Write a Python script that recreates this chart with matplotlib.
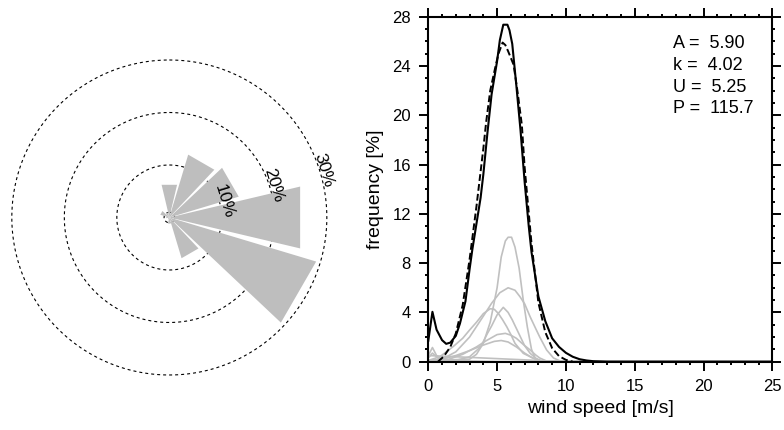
import numpy as np
import matplotlib.pyplot as plt
from matplotlib.patches import Polygon

plt.rcParams['font.family'] = ['Liberation Sans', 'DejaVu Sans']

# wind rose: 12 direction sectors (deg from north), frequency [%]
directions = [0, 30, 60, 90, 120, 150, 180, 210, 240, 270, 300, 330]
sector_freq = [6.4, 12.5, 13.8, 25.6, 29.2, 8.1, 1.2, 0.4, 0.3, 0.6, 1.8, 1.0]
rings = [1, 10, 20, 30]
ring_labels = ['', '10%', '20%', '30%']

# observed total distribution
total_x = [0, 0.3, 0.6, 1.0, 1.3, 1.6, 2.0, 2.3, 2.7, 3.0, 3.2, 3.5, 3.8, 4.0, 4.3,
           4.6, 5.0, 5.2, 5.45, 5.75, 5.9, 6.1, 6.4, 6.7, 7.0, 7.3, 7.5, 8.0, 8.5,
           9.0, 9.5, 10.0, 10.5, 11.0, 11.5, 12.0, 13.0, 25.0]
total_y = [1.7, 4.05, 2.6, 1.75, 1.45, 1.55, 2.1, 3.1, 4.9, 7.5, 9.1, 11.2, 13.3, 15.2, 18.6,
           21.7, 24.4, 26.1, 27.35, 27.35, 26.9, 25.8, 22.4, 18.8, 14.6, 11.0, 8.9, 5.3, 3.3,
           1.9, 1.2, 0.72, 0.4, 0.2, 0.1, 0.04, 0.0, 0.0]

# weibull fit (dashed)
fit_x = [0.7, 1.0, 1.2, 1.6, 2.0, 2.5, 3.0, 3.5, 4.0, 4.2, 4.5, 4.85, 5.1, 5.4, 5.6,
         5.8, 6.2, 6.5, 6.8, 7.0, 7.5, 8.0, 8.5, 9.0, 9.5, 10.0, 10.5]
fit_y = [0.0, 0.3, 0.55, 1.2, 2.3, 4.6, 8.3, 12.6, 17.3, 19.4, 22.0, 23.8, 25.0, 25.9, 25.7,
         25.2, 24.1, 21.8, 19.2, 15.8, 9.6, 4.8, 2.4, 1.1, 0.45, 0.15, 0.0]

# per-direction distributions (grey)
dir_curves = [
    ([0, 3.0, 3.5, 4.0, 4.5, 5.0, 5.3, 5.6, 5.8, 6.05, 6.3, 6.6, 6.9, 7.2, 7.5, 7.8, 8.2, 25],
     [0.1, 0.2, 0.6, 1.5, 3.2, 6.0, 8.5, 9.8, 10.1, 10.1, 9.3, 7.6, 5.0, 2.8, 1.0, 0.2, 0.0, 0.0]),
    ([0, 1, 2, 3, 4, 4.6, 5.2, 5.8, 6.3, 6.66, 7.0, 7.4, 7.8, 8.1, 8.6, 9.1, 9.6, 25],
     [0.1, 0.2, 0.8, 2.0, 3.7, 4.74, 5.6, 6.0, 5.8, 5.28, 4.7, 3.65, 2.7, 2.0, 0.95, 0.3, 0.05, 0.0]),
    ([0, 2, 3, 3.8, 4.3, 4.6, 5.0, 5.45, 5.8, 6.1, 6.7, 7.0, 7.4, 7.8, 8.2, 25],
     [0.05, 0.1, 0.4, 1.2, 2.3, 2.9, 3.8, 4.41, 4.0, 3.4, 2.0, 1.3, 0.68, 0.3, 0.05, 0.0]),
    ([0, 0.85, 1.8, 2.5, 3.0, 3.5, 4.0, 4.5, 4.8, 5.1, 5.4, 5.7, 6.0, 6.3, 6.9, 7.6, 8.3, 25],
     [0.1, 0.41, 1.22, 1.9, 2.57, 3.2, 3.9, 4.3, 4.25, 3.9, 3.4, 2.84, 2.2, 1.49, 0.68, 0.3, 0.05, 0.0]),
    ([0, 1.5, 2.5, 3.5, 4.2, 5.0, 5.6, 6.0, 6.4, 6.9, 7.4, 7.8, 8.1, 8.6, 25],
     [0.05, 0.2, 0.6, 1.2, 1.7, 2.2, 2.3, 2.15, 1.9, 1.4, 0.95, 0.55, 0.3, 0.05, 0.0]),
    ([0, 1, 2, 3, 4, 4.8, 5.3, 5.8, 6.4, 7.0, 7.5, 8.0, 8.5, 25],
     [0.1, 0.2, 0.5, 0.9, 1.35, 1.65, 1.72, 1.6, 1.2, 0.7, 0.35, 0.1, 0.0, 0.0]),
    ([0, 2, 4, 6, 8, 9, 25],
     [0.5, 0.4, 0.3, 0.2, 0.1, 0.0, 0.0]),
    ([0, 0.3, 0.6, 1.0, 2.0, 3.0, 5.0, 25],
     [0.5, 1.15, 0.5, 0.2, 0.1, 0.05, 0.0, 0.0]),
    ([0, 0.3, 0.7, 1.2, 2.0, 4.0, 25],
     [0.3, 0.7, 0.3, 0.1, 0.05, 0.0, 0.0]),
]

fit_text = ['A =  5.90', 'k =  4.02', 'U =  5.25', 'P =  115.7']

fig = plt.figure(figsize=(7.84, 4.30), dpi=100)

# ---- wind rose
ax1 = fig.add_axes([0.0, 0.0814, 0.4337, 0.8256])
ax1.set_xlim(-32.25, 32.51)
ax1.set_ylim(-33.81, 33.81)
ax1.axis('off')

t = np.linspace(0, 2 * np.pi, 400)
for r in rings:
    ax1.plot(r * np.sin(t), r * np.cos(t), color='black', lw=0.8,
             linestyle=(0, (2.7, 2.7)), zorder=1)

half = np.radians(13.3)
for d, f in zip(directions, sector_freq):
    b = np.radians(d)
    verts = [(0, 0),
             (f * np.sin(b - half), f * np.cos(b - half)),
             (f * np.sin(b + half), f * np.cos(b + half))]
    ax1.add_patch(Polygon(verts, closed=True, facecolor='#bebebe',
                          edgecolor='none', zorder=2))

lab_b = np.radians(73)
for r, lab in zip(rings, ring_labels):
    if lab:
        rr = r + 0.8
        ax1.text(rr * np.sin(lab_b), rr * np.cos(lab_b), lab, fontsize=12.5,
                 rotation=-73, ha='center', va='center', zorder=3)

# ---- speed distribution
ax2 = fig.add_axes([428.3 / 784, 68.3 / 430, 344 / 784, 345 / 430])
for cx, cy in dir_curves:
    ax2.plot(cx, cy, color='#c0c0c0', lw=1.2, zorder=1)
ax2.plot(fit_x, fit_y, color='black', lw=1.4, linestyle=(0, (3.5, 1.6)), zorder=2)
ax2.plot(total_x, total_y, color='black', lw=1.5, zorder=3)

ax2.set_xlim(0, 25)
ax2.set_ylim(0, 28)
ax2.set_xticks(np.arange(0, 26, 5))
ax2.set_xticks(np.arange(0, 26, 1), minor=True)
ax2.set_yticks(np.arange(0, 29, 4))
ax2.set_yticks(np.arange(0, 29, 1), minor=True)
ax2.tick_params(which='both', direction='out', top=True, right=True, width=1.4)
ax2.tick_params(which='major', length=6.5, labelsize=12, pad=6)
ax2.tick_params(which='minor', length=2.5)
for s in ax2.spines.values():
    s.set_linewidth(1.5)
ax2.set_xlabel('wind speed [m/s]', fontsize=14, labelpad=4)
ax2.set_ylabel('frequency [%]', fontsize=14, labelpad=6)

ax2.text(0.712, 0.948, '\n'.join(fit_text), transform=ax2.transAxes,
         fontsize=13, ha='left', va='top', linespacing=1.38)

fig.savefig('out.png', dpi=100)
